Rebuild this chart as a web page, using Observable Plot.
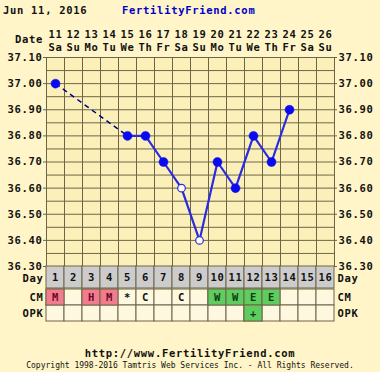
<!DOCTYPE html>
<html><head><meta charset="utf-8">
<script src="https://cdn.jsdelivr.net/npm/d3@7"></script>
<script src="https://cdn.jsdelivr.net/npm/@observablehq/plot@0.6"></script>
<style>
html,body{margin:0;padding:0;background:#FFF5C8;}
#wrap{position:relative;width:380px;height:372px;background:#FFF5C8;font-family:"DejaVu Sans Mono",monospace;font-weight:bold;color:#111;overflow:hidden;}
#wrap > *{position:absolute;margin:0;}
.t{font-size:10.5px;letter-spacing:0.7px;line-height:14px;white-space:nowrap;}
</style></head>
<body>
<div id="wrap">
  <div class="t" style="left:3px;top:3px;">Jun 11, 2016</div>
  <div class="t" style="left:122px;top:3px;color:#0000C8;">FertilityFriend.com</div>
  <div class="t" style="left:0;top:32px;width:43px;text-align:right;">Date</div>
  <div id="chart" style="left:0;top:20px;"></div>
  <div id="dayrow" style="left:0;top:266px;"></div>
  <div id="table" style="left:0;top:288px;"></div>
  <div class="t" style="left:0;top:346px;width:380px;text-align:center;">http://www.FertilityFriend.com</div>
  <div style="left:0;top:361px;width:380px;text-align:center;font-size:8px;line-height:10px;font-weight:normal;white-space:nowrap;">Copyright 1998-2016 Tamtris Web Services Inc. - All Rights Reserved.</div>
</div>
<script>
// ---- data ----
const cycleDays = [1,2,3,4,5,6,7,8,9,10,11,12,13,14,15,16];
const dateLabels = ["11","12","13","14","15","16","17","18","19","20","21","22","23","24","25","26"];
const weekdayLabels = ["Sa","Su","Mo","Tu","We","Th","Fr","Sa","Su","Mo","Tu","We","Th","Fr","Sa","Su"];
const tempDays = [1,5,6,7,8,9,10,11,12,13,14];
const temps = [37.00,36.80,36.80,36.70,36.60,36.40,36.70,36.60,36.80,36.70,36.90];
const openDays = [8,9];
const yTickValues = [36.3,36.4,36.5,36.6,36.7,36.8,36.9,37.0,37.1];
const codeRows = ["CM","OPK"];
const cmDays = [1,3,4,5,6,8,10,11,12,13];
const cmCodes = ["M","H","M","*","C","C","W","W","E","E"];
const opkDays = [12];
const opkCodes = ["+"];

// ---- styles ----
const gridColor = "#6E6546";
const plotBg = "#FCF0BA";
const cellBg = "#FFF8E0";
const dayBg = "#CCCCCC";
const pink = "#F07C8E";
const green = "#5FCC5F";
const codeFill = {M: pink, H: pink, W: green, E: green, "+": green};
const codeText = {M: "#6A0A1E", H: "#6A0A1E", W: "#0E3E0E", E: "#0E3E0E", "+": "#0E3E0E"};
const font = {fontFamily: "DejaVu Sans Mono, monospace", fontWeight: "bold", fontSize: "10.5px", letterSpacing: "0.7px", background: "transparent", color: "#111", overflow: "visible"};
const tx = {fontSize: 10.5, fontWeight: "bold"};

const points = tempDays.map((d, i) => ({day: d, temp: temps[i], open: openDays.includes(d)}));
const segs = points.slice(1).map((p, i) => ({x1: points[i].day, y1: points[i].temp, x2: p.day, y2: p.temp, gap: p.day - points[i].day > 1}));
const hGrid = d3.range(0, 17).map(k => 36.3 + k * 0.05);
const vGrid = cycleDays.map(d => d - 0.5).concat([cycleDays.length + 0.5]);
const xDomain = [0.5, cycleDays.length + 0.5];

const chart = Plot.plot({
  width: 380, height: 252,
  marginLeft: 46, marginRight: 46, marginTop: 37, marginBottom: 6,
  style: font,
  x: {domain: xDomain, axis: null},
  y: {domain: [36.3, 37.1], axis: null},
  marks: [
    Plot.frame({fill: plotBg, stroke: null}),
    Plot.ruleY(hGrid, {stroke: gridColor, strokeWidth: 1}),
    Plot.ruleX(vGrid, {stroke: gridColor, strokeWidth: 1}),
    Plot.frame({stroke: gridColor}),
    Plot.axisX(cycleDays, {anchor: "top", label: null, tickSize: 0, tickPadding: 20, tickFormat: d => dateLabels[d - 1], ...tx}),
    Plot.axisX(cycleDays, {anchor: "top", label: null, tickSize: 0, tickPadding: 7, tickFormat: d => weekdayLabels[d - 1], ...tx}),
    Plot.axisY(yTickValues, {anchor: "left", label: null, tickSize: 3, tickPadding: 1, stroke: gridColor, tickFormat: d3.format(".2f"), ...tx}),
    Plot.axisY(yTickValues, {anchor: "right", label: null, tickSize: 2, tickPadding: 2, stroke: gridColor, tickFormat: d3.format(".2f"), ...tx}),
    Plot.link(segs.filter(s => s.gap), {x1: "x1", y1: "y1", x2: "x2", y2: "y2", stroke: "#000080", strokeWidth: 1.5, strokeDasharray: "5,4"}),
    Plot.link(segs.filter(s => !s.gap), {x1: "x1", y1: "y1", x2: "x2", y2: "y2", stroke: "#2A2AE0", strokeWidth: 2.2}),
    Plot.dot(points.filter(p => !p.open), {x: "day", y: "temp", r: 4.5, fill: "#0A0AF0", stroke: "#0A0AF0", strokeWidth: 0.5}),
    Plot.dot(points.filter(p => p.open), {x: "day", y: "temp", r: 3.8, fill: "#FFFFF0", stroke: "#2A2AE0", strokeWidth: 1.2})
  ]
});
document.getElementById("chart").appendChild(chart);

// Day-number row
const dayCells = cycleDays.map(d => ({row: "Day", day: d}));
const dayRow = Plot.plot({
  width: 380, height: 22,
  marginLeft: 46, marginRight: 46, marginTop: 0, marginBottom: 0,
  style: font,
  x: {domain: xDomain, axis: null},
  y: {domain: ["Day"], padding: 0, axis: null},
  marks: [
    Plot.barX(dayCells, {x1: d => d.day - 0.5, x2: d => d.day + 0.5, y: "row", fill: dayBg, stroke: gridColor, strokeWidth: 1}),
    Plot.text(dayCells, {x: "day", y: "row", text: d => String(d.day), fill: "#111", ...tx}),
    Plot.axisY(["Day"], {anchor: "left", label: null, tickSize: 0, tickPadding: 3, dy: 1, ...tx}),
    Plot.axisY(["Day"], {anchor: "right", label: null, tickSize: 0, tickPadding: 3, dy: 1, ...tx})
  ]
});
document.getElementById("dayrow").appendChild(dayRow);

// CM / OPK rows
const cells = [];
codeRows.forEach(r => cycleDays.forEach(d => cells.push({row: r, day: d})));
const cmCells = cmDays.map((d, i) => ({row: "CM", day: d, code: cmCodes[i]}));
const opkCells = opkDays.map((d, i) => ({row: "OPK", day: d, code: opkCodes[i]}));
const codeCells = cmCells.concat(opkCells);

const table = Plot.plot({
  width: 380, height: 34,
  marginLeft: 46, marginRight: 46, marginTop: 0, marginBottom: 1,
  style: font,
  x: {domain: xDomain, axis: null},
  y: {domain: codeRows, padding: 0, axis: null},
  marks: [
    Plot.barX(cells, {x1: d => d.day - 0.5, x2: d => d.day + 0.5, y: "row", fill: cellBg, stroke: gridColor, strokeWidth: 1}),
    Plot.barX(codeCells.filter(c => codeFill[c.code]), {x1: d => d.day - 0.5, x2: d => d.day + 0.5, y: "row", fill: d => codeFill[d.code], stroke: gridColor, strokeWidth: 1}),
    Plot.text(codeCells, {x: "day", y: "row", text: "code", fill: d => codeText[d.code] || "#111", ...tx}),
    Plot.axisY(codeRows, {anchor: "left", label: null, tickSize: 0, tickPadding: 3, ...tx}),
    Plot.axisY(codeRows, {anchor: "right", label: null, tickSize: 0, tickPadding: 3, ...tx})
  ]
});
document.getElementById("table").appendChild(table);
</script>
</body></html>
